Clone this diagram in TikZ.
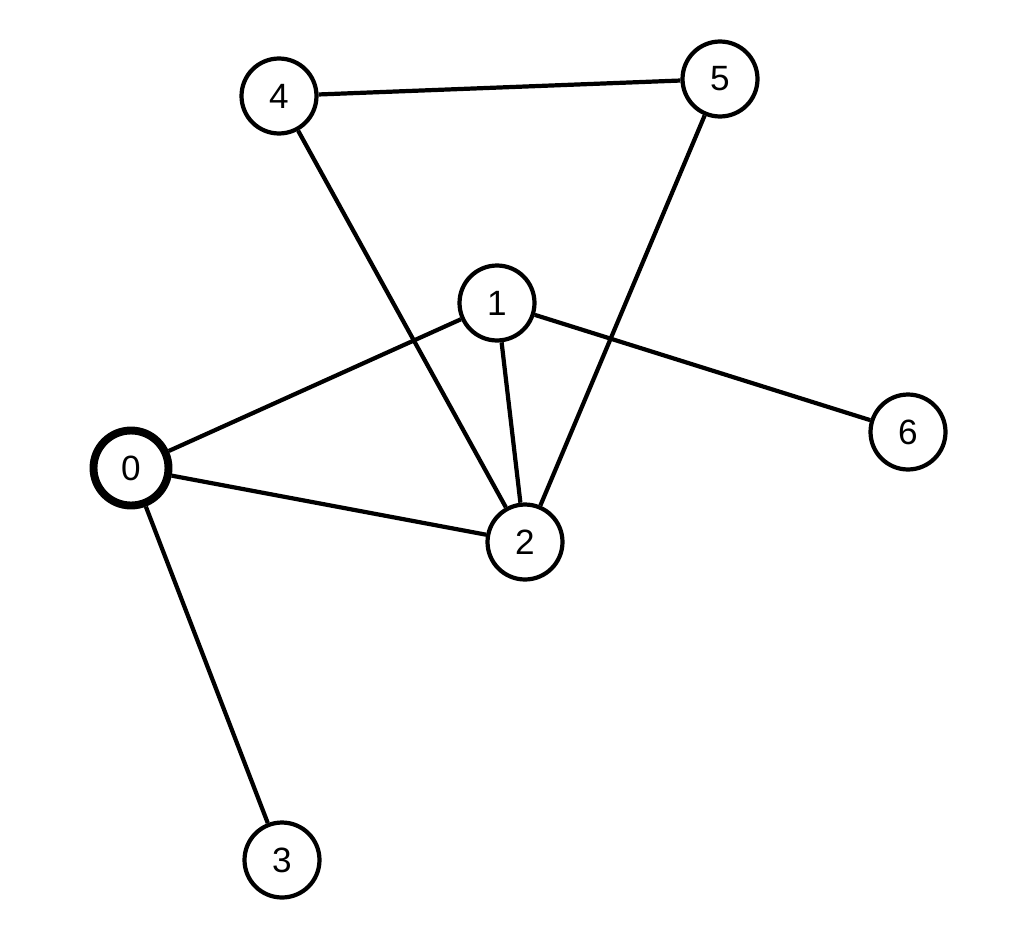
\documentclass[tikz,border=0pt]{standalone}
\usepackage{fontspec}
\setmainfont{Liberation Sans}
\begin{document}
\begin{tikzpicture}[x=0.02cm,y=-0.02cm,
  vert/.style={circle,draw,line width=2.4pt,fill=white,minimum size=1.5cm,inner sep=0pt,font=\fontsize{20}{24}\selectfont},
  edge/.style={line width=2.4pt}]
\useasboundingbox (0,0) rectangle (1010,946);
\node[vert,line width=4.5pt] (n0) at (131,468) {0};
\node[vert] (n1) at (497,303) {1};
\node[vert] (n2) at (525,542) {2};
\node[vert] (n3) at (282,860) {3};
\node[vert] (n4) at (279,96) {4};
\node[vert] (n5) at (720,79) {5};
\node[vert] (n6) at (908,432) {6};
\begin{scope}[on background layer/.style={}]
\end{scope}
\draw[edge] (n4) -- (n5);
\draw[edge] (n4) -- (n2);
\draw[edge] (n5) -- (n2);
\draw[edge] (n1) -- (n0);
\draw[edge] (n1) -- (n2);
\draw[edge] (n1) -- (n6);
\draw[edge] (n0) -- (n2);
\draw[edge] (n0) -- (n3);
\end{tikzpicture}
\end{document}
